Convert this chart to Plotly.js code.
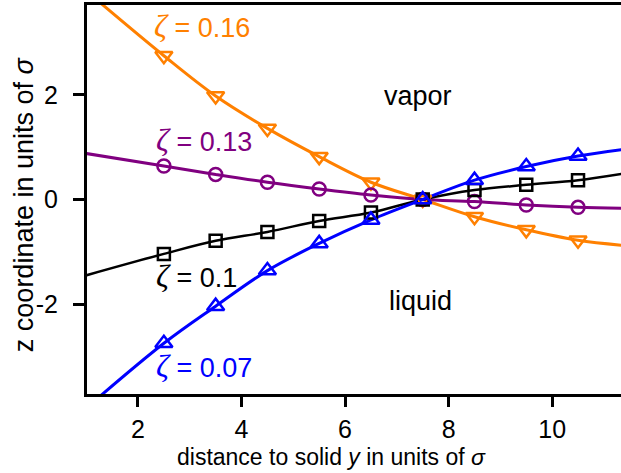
<!DOCTYPE html>
<html>
<head>
<meta charset="utf-8">
<script src="https://cdn.plot.ly/plotly-3.0.1.min.js"></script>
<style>html,body{margin:0;padding:0;background:#fff;}#chart{width:621px;height:473px;}</style>
</head>
<body>
<div id="chart"></div>
<script>
// marker data (distance to solid y, z coordinate), units of sigma
const xMarkers = [2.5, 3.5, 4.5, 5.5, 6.5, 7.5, 8.5, 9.5, 10.5];
const zeta016 = [2.75, 1.98, 1.36, 0.82, 0.33, 0, -0.33, -0.58, -0.78];
const zeta013 = [0.64, 0.48, 0.33, 0.20, 0.086, 0, -0.04, -0.105, -0.15];
const zeta010 = [-1.04, -0.79, -0.62, -0.41, -0.25, 0, 0.18, 0.28, 0.37];
const zeta007 = [-2.75, -2.04, -1.36, -0.84, -0.39, 0, 0.37, 0.63, 0.83];

// fitted curves: values read at the plot edges, plus the marker points
const xEdges = [1.0, 11.4];
const edge016 = [3.99, -0.88];
const edge013 = [0.88, -0.17];
const edge010 = [-1.45, 0.50];
const edge007 = [-3.99, 0.96];

const labels = ['0.16', '0.13', '0.1', '0.07'];
const colors = ['#ff8000', '#800080', '#000000', '#0000ff'];
const symbols = ['triangle-down-open', 'circle-open', 'square-open', 'triangle-up-open'];
const series = [zeta016, zeta013, zeta010, zeta007];
const edges = [edge016, edge013, edge010, edge007];
const lineWidths = [3, 3, 2.5, 3];
const markerSizes = [15, 13, 12, 15];

const traces = [];
series.forEach((ys, i) => {
  const cx = [xEdges[0]].concat(xMarkers, [xEdges[1]]);
  const cy = [edges[i][0]].concat(ys, [edges[i][1]]);
  traces.push({
    x: cx, y: cy, mode: 'lines', type: 'scatter',
    line: {color: colors[i], width: lineWidths[i], shape: 'spline', smoothing: 1},
    hoverinfo: 'skip', showlegend: false
  });
});
series.forEach((ys, i) => {
  traces.push({
    x: xMarkers, y: ys, mode: 'markers', type: 'scatter',
    marker: {symbol: symbols[i], color: colors[i], size: markerSizes[i], line: {color: colors[i], width: 2.5}},
    showlegend: false, cliponaxis: false
  });
});

const font = 'Liberation Sans, Arial, sans-serif';
const zeta = '<span style="font-family:\'Liberation Serif\', serif; font-size:32px"><i>ζ</i></span>';
const labelPos = [[2.27, 3.32], [2.31, 1.14], [2.31, -1.46], [2.31, -3.19]];
const annotations = labels.map((t, i) => ({
  x: labelPos[i][0], y: labelPos[i][1], xref: 'x', yref: 'y',
  text: zeta + ' = ' + t, showarrow: false, xanchor: 'left', yanchor: 'middle',
  font: {family: font, size: 27, color: colors[i]}
}));
annotations.push({x: 7.41, y: 1.98, xref: 'x', yref: 'y', text: 'vapor', showarrow: false,
  font: {family: font, size: 27, color: '#000'}});
annotations.push({x: 7.46, y: -1.94, xref: 'x', yref: 'y', text: 'liquid', showarrow: false,
  font: {family: font, size: 27, color: '#000'}});
// axis titles (centred on the full original frame, which is cut off on the right)
annotations.push({x: 0.457, y: -0.163, xref: 'paper', yref: 'paper', xanchor: 'center', yanchor: 'middle',
  text: 'distance to solid <i>y</i> in units of <i>σ</i>', showarrow: false,
  font: {family: font, size: 23, color: '#000'}});
annotations.push({x: -0.118, y: 0.488, xref: 'paper', yref: 'paper', xanchor: 'center', yanchor: 'middle',
  text: 'z coordinate in units of <i>σ</i>', showarrow: false, textangle: -90,
  font: {family: font, size: 27, color: '#000'}});

const layout = {
  width: 621, height: 473,
  margin: {l: 87, r: 0, t: 5, b: 79, pad: 0},
  paper_bgcolor: '#ffffff', plot_bgcolor: '#ffffff',
  font: {family: font, size: 23, color: '#000'},
  xaxis: {
    range: [1.015, 11.33], tickvals: [2, 4, 6, 8, 10], ticktext: ['2', '4', '6', '8', '10'],
    showline: true, mirror: true, linecolor: '#000', linewidth: 3,
    ticks: 'outside', ticklen: 10, tickwidth: 3, tickcolor: '#000',
    showgrid: false, zeroline: false, ticklabelstandoff: 1,
    tickfont: {family: font, size: 25}
  },
  yaxis: {
    range: [-3.72, 3.72], tickvals: [-2, 0, 2], ticktext: ['-2', '0', '2'],
    showline: true, mirror: false, linecolor: '#000', linewidth: 3,
    ticks: 'outside', ticklen: 11, tickwidth: 3, tickcolor: '#000',
    showgrid: false, zeroline: false, ticklabelstandoff: 10,
    tickfont: {family: font, size: 25}
  },
  annotations: annotations
};

Plotly.newPlot('chart', traces, layout, {displayModeBar: false, staticPlot: true});
</script>
</body>
</html>
